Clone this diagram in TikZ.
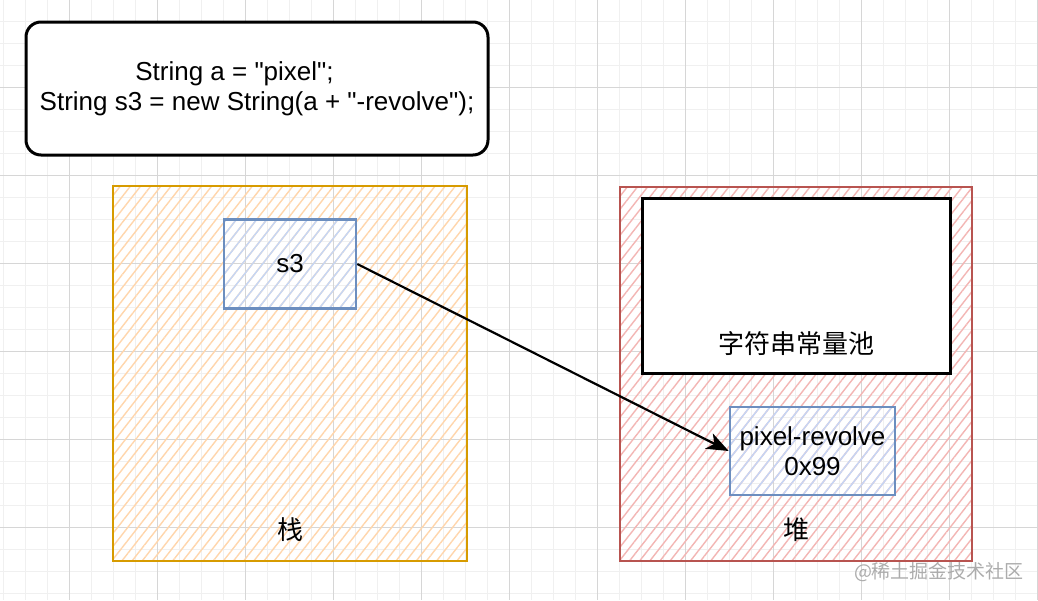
\documentclass[tikz,border=0pt]{standalone}
\usepackage{fontspec}
\setmainfont{Liberation Sans}
\newfontfamily\cjk{Noto Sans CJK SC}
\usetikzlibrary{arrows.meta,patterns.meta,positioning}
\definecolor{stackOrange}{RGB}{215,155,0}
\definecolor{stackHatch}{RGB}{255,214,172}
\definecolor{heapRed}{RGB}{184,84,80}
\definecolor{heapHatch}{RGB}{243,182,180}
\definecolor{refBlue}{RGB}{108,142,191}
\definecolor{refHatch}{RGB}{196,214,246}
\definecolor{gridMinor}{RGB}{240,240,240}
\definecolor{gridMajor}{RGB}{214,214,214}
\definecolor{markGray}{RGB}{172,172,172}

\begin{document}
\begin{tikzpicture}[x=1pt,y=-1pt,
    font=\fontsize{26}{30}\selectfont,
    memarea/.style={draw, line width=2.7pt, inner sep=0pt,
      pattern={Lines[angle=52,distance=8pt,line width=1.4pt]}},
    refbox/.style={draw=refBlue, line width=2.6pt, inner sep=2pt,
      pattern={Lines[angle=52,distance=8pt,line width=1.4pt]},
      pattern color=refHatch},
    codebox/.style={draw=black, fill=white, line width=3pt,
      rounded corners=15pt, align=center},
    poolbox/.style={draw=black, fill=white, line width=3pt}]
  \fill[white] (0,0) rectangle (1038,600);
  \useasboundingbox (0,0) rectangle (1038,600);

  % background grid
  \foreach \gx in {3,25,...,1037}
    \draw[gridMinor, line width=1pt] (\gx,0) -- (\gx,600);
  \foreach \gy in {21,43,...,599}
    \draw[gridMinor, line width=1pt] (0,\gy) -- (1038,\gy);
  \foreach \gx in {69,157,...,1037}
    \draw[gridMajor, line width=1pt] (\gx,0) -- (\gx,600);
  \foreach \gy in {87,175,...,599}
    \draw[gridMajor, line width=1pt] (0,\gy) -- (1038,\gy);

  % source code
  \node[codebox, minimum width=462pt, minimum height=133pt] (code) at (257,88.5)
    {String a = \textquotedbl pixel\textquotedbl;\hspace*{45pt}\\
     String s3 = new String(a + \textquotedbl-revolve\textquotedbl);};

  % stack
  \node[memarea, draw=stackOrange, pattern color=stackHatch,
        minimum width=354pt, minimum height=375pt] (stack) at (290,373.5) {};
  \node[refbox, minimum width=132pt, minimum height=89pt] (s3) at (290,264) {s3};
  \node[above=17pt of stack.south] (stackLbl) {\cjk 栈};

  % heap
  \node[memarea, draw=heapRed, pattern color=heapHatch,
        minimum width=352pt, minimum height=374pt] (heap) at (796,374) {};
  \node[poolbox, minimum width=308pt, minimum height=175pt] (pool) at (796,285.5) {};
  \node[above=15pt of pool.south] (poolLbl) {\cjk 字符串常量池};
  \node[refbox, minimum width=165pt, minimum height=88pt, align=center]
    (pix) at (812.5,451) {pixel-revolve\\0x99};
  \node[above=17pt of heap.south] (heapLbl) {\cjk 堆};

  \draw[-{Stealth[length=22pt,width=17pt,inset=6pt]}, line width=2.2pt]
    (s3.east) -- (pix.west);

  \node[text=markGray, font=\fontsize{19}{22}\selectfont] (mark) at (939,572)
    {\cjk @稀土掘金技术社区};
\end{tikzpicture}
\end{document}
